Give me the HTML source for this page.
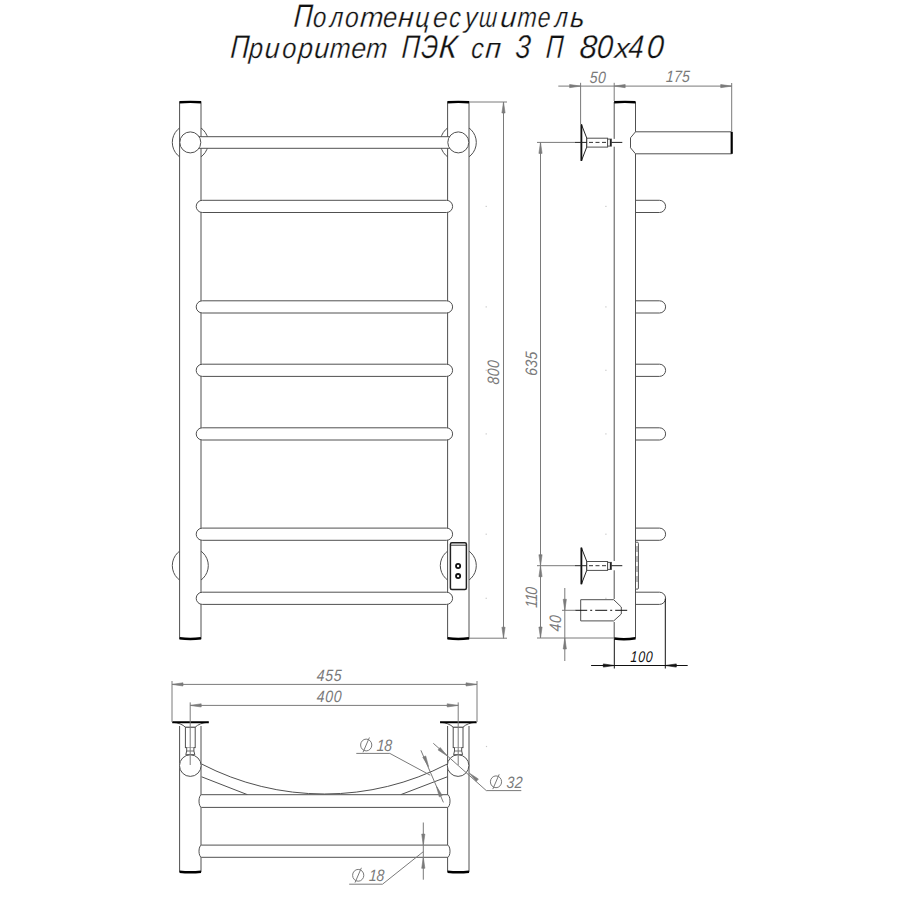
<!DOCTYPE html>
<html><head><meta charset="utf-8"><style>
html,body{margin:0;padding:0;background:#fff;}
svg{display:block;font-family:"Liberation Sans",sans-serif;}
</style></head><body>
<svg width="900" height="900" viewBox="0 0 900 900">
<rect width="900" height="900" fill="#fff"/>
<circle cx="190.3" cy="142.4" r="18" stroke="#505050" stroke-width="1.0" fill="white"/>
<circle cx="190.3" cy="565.6" r="18" stroke="#505050" stroke-width="1.0" fill="white"/>
<circle cx="458.3" cy="142.4" r="18" stroke="#505050" stroke-width="1.0" fill="white"/>
<circle cx="458.3" cy="565.6" r="18" stroke="#505050" stroke-width="1.0" fill="white"/>
<rect x="179.6" y="102" width="21.400000000000006" height="536.6" fill="white" stroke="#505050" stroke-width="1.0"/>
<path d="M179.6,102.3 Q190.3,101.4 201,102.3" stroke="#000" stroke-width="2.4" fill="none"/>
<path d="M179.6,638.3000000000001 Q190.3,639.8000000000001 201,638.3000000000001" stroke="#000" stroke-width="2.4" fill="none"/>
<rect x="447.6" y="102" width="21.399999999999977" height="536.6" fill="white" stroke="#505050" stroke-width="1.0"/>
<path d="M447.6,102.3 Q458.3,101.4 469,102.3" stroke="#000" stroke-width="2.4" fill="none"/>
<path d="M447.6,638.3000000000001 Q458.3,639.8000000000001 469,638.3000000000001" stroke="#000" stroke-width="2.4" fill="none"/>
<rect x="195" y="136.7" width="258" height="11.6" fill="white" stroke="none"/>
<line x1="199" y1="136.7" x2="450" y2="136.7" stroke="#505050" stroke-width="1.0" />
<line x1="199" y1="148.3" x2="450" y2="148.3" stroke="#505050" stroke-width="1.0" />
<circle cx="190.3" cy="142.4" r="10.5" stroke="#505050" stroke-width="1.0" fill="white"/>
<circle cx="458.3" cy="142.4" r="10.5" stroke="#505050" stroke-width="1.0" fill="white"/>
<rect x="196.2" y="200.3" width="256.4" height="12.2" rx="6.1" ry="6.1" fill="white" stroke="#505050" stroke-width="1.0"/>
<rect x="196.2" y="300.79999999999995" width="256.4" height="12.2" rx="6.1" ry="6.1" fill="white" stroke="#505050" stroke-width="1.0"/>
<rect x="196.2" y="364.2" width="256.4" height="12.2" rx="6.1" ry="6.1" fill="white" stroke="#505050" stroke-width="1.0"/>
<rect x="196.2" y="427.79999999999995" width="256.4" height="12.2" rx="6.1" ry="6.1" fill="white" stroke="#505050" stroke-width="1.0"/>
<rect x="196.2" y="528.1" width="256.4" height="12.2" rx="6.1" ry="6.1" fill="white" stroke="#505050" stroke-width="1.0"/>
<rect x="196.2" y="592.1999999999999" width="256.4" height="12.2" rx="6.1" ry="6.1" fill="white" stroke="#505050" stroke-width="1.0"/>
<rect x="450.4" y="542.7" width="16" height="46.7" rx="1.5" fill="white" stroke="#222" stroke-width="1.5"/>
<line x1="450.4" y1="545.2" x2="466.4" y2="545.2" stroke="#222" stroke-width="0.9" />
<circle cx="458.1" cy="566" r="2.1" stroke="#111" stroke-width="1.8" fill="none"/>
<circle cx="458.1" cy="576.1" r="2.1" stroke="#111" stroke-width="1.8" fill="none"/>
<line x1="469" y1="102" x2="507" y2="102" stroke="#7a7a7a" stroke-width="1" />
<line x1="469" y1="638.2" x2="507" y2="638.2" stroke="#7a7a7a" stroke-width="1" />
<line x1="503.5" y1="102" x2="503.5" y2="638.2" stroke="#7a7a7a" stroke-width="1" />
<path d="M503.50,102.00 L505.10,113.00 L501.90,113.00 Z" fill="#7a7a7a" stroke="#7a7a7a" stroke-width="0.6"/>
<path d="M503.50,638.20 L501.90,627.20 L505.10,627.20 Z" fill="#7a7a7a" stroke="#7a7a7a" stroke-width="0.6"/>
<text transform="translate(499.3 372.6) rotate(-90) skewX(-3) scale(0.85 1)" x="-9.65 0.00 9.65" y="0" font-size="16.5" fill="#7a7a7a" text-anchor="middle" font-style="italic">800</text>
<line x1="635.5" y1="102" x2="635.5" y2="131.8" stroke="#505050" stroke-width="1.0" />
<line x1="635.5" y1="153.8" x2="635.5" y2="638.5" stroke="#505050" stroke-width="1.0" />
<line x1="614.2" y1="102" x2="614.2" y2="138.9" stroke="#505050" stroke-width="1.0" />
<line x1="614.2" y1="146.7" x2="614.2" y2="561" stroke="#505050" stroke-width="1.0" />
<line x1="614.2" y1="570.3" x2="614.2" y2="599" stroke="#505050" stroke-width="1.0" />
<line x1="614.2" y1="622" x2="614.2" y2="638.5" stroke="#505050" stroke-width="1.0" />
<path d="M614.2,102.3 Q624.85,101.4 635.5,102.3" stroke="#000" stroke-width="2.4" fill="none"/>
<path d="M614.2,638.5 Q624.85,640 635.5,638.2" stroke="#000" stroke-width="2.4" fill="none"/>
<path d="M635.5,131.8 L630.5,137.8 L630.5,147.8 L635.5,153.8" stroke="#505050" stroke-width="1.0" fill="none"/>
<line x1="635.5" y1="131.8" x2="731.7" y2="131.8" stroke="#505050" stroke-width="1.0" />
<line x1="635.5" y1="153.8" x2="731.7" y2="153.8" stroke="#505050" stroke-width="1.0" />
<line x1="731.7" y1="131.8" x2="731.7" y2="153.8" stroke="#000" stroke-width="2.2" />
<path d="M635.5,200.3 L659.5,200.3 A6.1,6.1 0 0 1 659.5,212.5 L635.5,212.5" stroke="#505050" stroke-width="1.0" fill="none"/>
<path d="M635.5,300.79999999999995 L659.5,300.79999999999995 A6.1,6.1 0 0 1 659.5,313.0 L635.5,313.0" stroke="#505050" stroke-width="1.0" fill="none"/>
<path d="M635.5,364.2 L659.5,364.2 A6.1,6.1 0 0 1 659.5,376.40000000000003 L635.5,376.40000000000003" stroke="#505050" stroke-width="1.0" fill="none"/>
<path d="M635.5,427.79999999999995 L659.5,427.79999999999995 A6.1,6.1 0 0 1 659.5,440.0 L635.5,440.0" stroke="#505050" stroke-width="1.0" fill="none"/>
<path d="M635.5,528.1 L659.5,528.1 A6.1,6.1 0 0 1 659.5,540.3000000000001 L635.5,540.3000000000001" stroke="#505050" stroke-width="1.0" fill="none"/>
<path d="M635.5,592.1999999999999 L659.5,592.1999999999999 A6.1,6.1 0 0 1 659.5,604.4 L635.5,604.4" stroke="#505050" stroke-width="1.0" fill="none"/>
<rect x="635.5" y="542.2" width="2.9" height="47" rx="1.2" fill="white" stroke="#505050" stroke-width="1"/>
<line x1="637.0" y1="546" x2="637.0" y2="586" stroke="#555" stroke-width="0.8" stroke-dasharray="6,4"/>
<path d="M581.4,124.4 L586.8,138.20000000000002 L586.8,146.9 L581.4,160.9 Z" stroke="#222" stroke-width="1.0" fill="white"/>
<line x1="581.4" y1="124.4" x2="581.4" y2="160.9" stroke="#111" stroke-width="1.8" />
<line x1="586.8" y1="138.20000000000002" x2="586.8" y2="146.9" stroke="#111" stroke-width="1.6" />
<rect x="586.8" y="138.20000000000002" width="20.8" height="8.9" fill="white" stroke="#505050" stroke-width="1.0"/>
<rect x="607.6" y="139.1" width="3.8" height="7" fill="white" stroke="#505050" stroke-width="1.0"/>
<line x1="610.5" y1="139.1" x2="610.5" y2="146.1" stroke="#222" stroke-width="1.3" />
<line x1="575" y1="142.4" x2="586.8" y2="142.4" stroke="#222" stroke-width="1" />
<line x1="589" y1="142.4" x2="607" y2="142.4" stroke="#333" stroke-width="1" stroke-dasharray="4,2.5"/>
<line x1="611.4" y1="142.4" x2="622.3" y2="142.4" stroke="#222" stroke-width="1" />
<path d="M581.4,547.7 L586.8,561.5 L586.8,570.2 L581.4,584.2 Z" stroke="#222" stroke-width="1.0" fill="white"/>
<line x1="581.4" y1="547.7" x2="581.4" y2="584.2" stroke="#111" stroke-width="1.8" />
<line x1="586.8" y1="561.5" x2="586.8" y2="570.2" stroke="#111" stroke-width="1.6" />
<rect x="586.8" y="561.5" width="20.8" height="8.9" fill="white" stroke="#505050" stroke-width="1.0"/>
<rect x="607.6" y="562.4000000000001" width="3.8" height="7" fill="white" stroke="#505050" stroke-width="1.0"/>
<line x1="610.5" y1="562.4000000000001" x2="610.5" y2="569.4000000000001" stroke="#222" stroke-width="1.3" />
<line x1="575" y1="565.7" x2="586.8" y2="565.7" stroke="#222" stroke-width="1" />
<line x1="589" y1="565.7" x2="607" y2="565.7" stroke="#333" stroke-width="1" stroke-dasharray="4,2.5"/>
<line x1="611.4" y1="565.7" x2="622.3" y2="565.7" stroke="#222" stroke-width="1" />
<path d="M613.7,599.7 L580.7,599.7 L580.7,620.9 L613.7,620.9 L621.3,614 L621.3,607 Z" stroke="#505050" stroke-width="1.0" fill="white"/>
<line x1="575.2" y1="610.3" x2="627.7" y2="610.3" stroke="#111" stroke-width="1" stroke-dasharray="12,3,2,3"/>
<line x1="558.3" y1="86.1" x2="731.7" y2="86.1" stroke="#7a7a7a" stroke-width="1" />
<line x1="580.6" y1="82.8" x2="580.6" y2="124.4" stroke="#7a7a7a" stroke-width="1" />
<line x1="614.2" y1="82.8" x2="614.2" y2="101" stroke="#7a7a7a" stroke-width="1" />
<line x1="731.7" y1="83" x2="731.7" y2="131" stroke="#7a7a7a" stroke-width="1" />
<path d="M580.60,86.10 L569.60,87.70 L569.60,84.50 Z" fill="#7a7a7a" stroke="#7a7a7a" stroke-width="0.6"/>
<path d="M614.20,86.10 L625.20,84.50 L625.20,87.70 Z" fill="#7a7a7a" stroke="#7a7a7a" stroke-width="0.6"/>
<path d="M731.70,86.10 L720.70,87.70 L720.70,84.50 Z" fill="#7a7a7a" stroke="#7a7a7a" stroke-width="0.6"/>
<text transform="translate(597.5 82.7) rotate(0) skewX(-3) scale(0.85 1)" x="-4.88 4.88" y="0" font-size="16.5" fill="#7a7a7a" text-anchor="middle" font-style="italic">50</text>
<text transform="translate(677.7 82.2) rotate(0) skewX(-3) scale(0.85 1)" x="-9.41 0.00 9.41" y="0" font-size="16.5" fill="#7a7a7a" text-anchor="middle" font-style="italic">175</text>
<line x1="537" y1="142.4" x2="575" y2="142.4" stroke="#7a7a7a" stroke-width="1" />
<line x1="537" y1="565.7" x2="575" y2="565.7" stroke="#7a7a7a" stroke-width="1" />
<line x1="537" y1="638" x2="614" y2="638" stroke="#7a7a7a" stroke-width="1" />
<line x1="540.5" y1="142.4" x2="540.5" y2="638" stroke="#7a7a7a" stroke-width="1" />
<path d="M540.50,142.40 L542.10,153.40 L538.90,153.40 Z" fill="#7a7a7a" stroke="#7a7a7a" stroke-width="0.6"/>
<path d="M540.50,565.70 L538.90,554.70 L542.10,554.70 Z" fill="#7a7a7a" stroke="#7a7a7a" stroke-width="0.6"/>
<path d="M540.50,565.70 L542.10,576.70 L538.90,576.70 Z" fill="#7a7a7a" stroke="#7a7a7a" stroke-width="0.6"/>
<path d="M540.50,638.00 L538.90,627.00 L542.10,627.00 Z" fill="#7a7a7a" stroke="#7a7a7a" stroke-width="0.6"/>
<text transform="translate(537.2 364.0) rotate(-90) skewX(-3) scale(0.85 1)" x="-9.65 0.00 9.65" y="0" font-size="16.5" fill="#7a7a7a" text-anchor="middle" font-style="italic">635</text>
<text transform="translate(536.7 597.6) rotate(-90) skewX(-3) scale(0.85 1)" x="-7.76 0.00 7.76" y="0" font-size="16.5" fill="#7a7a7a" text-anchor="middle" font-style="italic">110</text>
<line x1="562" y1="610.3" x2="575.2" y2="610.3" stroke="#7a7a7a" stroke-width="1" />
<line x1="564.8" y1="588" x2="564.8" y2="661" stroke="#7a7a7a" stroke-width="1" />
<path d="M564.80,610.30 L563.20,599.30 L566.40,599.30 Z" fill="#7a7a7a" stroke="#7a7a7a" stroke-width="0.6"/>
<path d="M564.80,638.00 L566.40,649.00 L563.20,649.00 Z" fill="#7a7a7a" stroke="#7a7a7a" stroke-width="0.6"/>
<text transform="translate(561.0 623.5) rotate(-90) skewX(-3) scale(0.85 1)" x="-5.00 5.00" y="0" font-size="16.5" fill="#7a7a7a" text-anchor="middle" font-style="italic">40</text>
<line x1="614.3" y1="639" x2="614.3" y2="668.5" stroke="#111" stroke-width="1" />
<line x1="665.3" y1="598.5" x2="665.3" y2="668.5" stroke="#111" stroke-width="1" />
<line x1="591.1" y1="665.5" x2="687.7" y2="665.5" stroke="#111" stroke-width="1" />
<path d="M614.30,665.50 L603.30,667.10 L603.30,663.90 Z" fill="#111" stroke="#111" stroke-width="0.6"/>
<path d="M665.30,665.50 L676.30,663.90 L676.30,667.10 Z" fill="#111" stroke="#111" stroke-width="0.6"/>
<text transform="translate(641.4 661.5) rotate(0) skewX(-3) scale(0.8 1)" x="-9.50 0.00 9.50" y="0" font-size="15.5" fill="#111" text-anchor="middle" font-style="italic">100</text>
<line x1="179.6" y1="726" x2="179.6" y2="872" stroke="#505050" stroke-width="1.0" />
<line x1="201" y1="726" x2="201" y2="872" stroke="#505050" stroke-width="1.0" />
<path d="M179.6,871.7 Q190.3,872.8 201,871.7" stroke="#000" stroke-width="2.4" fill="none"/>
<line x1="447.6" y1="726" x2="447.6" y2="872" stroke="#505050" stroke-width="1.0" />
<line x1="469" y1="726" x2="469" y2="872" stroke="#505050" stroke-width="1.0" />
<path d="M447.6,871.7 Q458.3,872.8 469,871.7" stroke="#000" stroke-width="2.4" fill="none"/>
<path d="M201.6,764 A266.5,266.5 0 0 0 447.3,764" stroke="#505050" stroke-width="1.0" fill="none"/>
<line x1="201.6" y1="776.8" x2="247.5" y2="794.7" stroke="#505050" stroke-width="1.0" />
<line x1="447.3" y1="776.8" x2="400.7" y2="794.7" stroke="#505050" stroke-width="1.0" />
<path d="M201.6,794.7 L447.4,794.7 A2.6,6.349999999999966 0 0 1 447.4,807.4 L201.6,807.4 A2.6,6.349999999999966 0 0 1 201.6,794.7 Z" fill="white" stroke="#505050" stroke-width="1.0"/>
<path d="M201.6,845.1 L447.4,845.1 A2.6,6.099999999999966 0 0 1 447.4,857.3 L201.6,857.3 A2.6,6.099999999999966 0 0 1 201.6,845.1 Z" fill="white" stroke="#505050" stroke-width="1.0"/>
<path d="M172.3,722.2 Q181.3,723 185.5,727.3 L195.10000000000002,727.3 Q199.3,723 208.3,722.2" stroke="#505050" stroke-width="1" fill="white"/>
<line x1="172.3" y1="722.2" x2="208.8" y2="722.2" stroke="#000" stroke-width="1.9" />
<rect x="185.4" y="727.3" width="9.8" height="20.3" fill="white" stroke="#505050" stroke-width="1"/>
<path d="M186.70000000000002,747.6 L186.70000000000002,751 L185.8,754.7 L194.8,754.7 L193.9,751 L193.9,747.6" stroke="#505050" stroke-width="1" fill="white"/>
<line x1="186.70000000000002" y1="751" x2="193.9" y2="751" stroke="#505050" stroke-width="0.8" />
<circle cx="190.3" cy="765.6" r="10.8" stroke="#505050" stroke-width="1.0" fill="white"/>
<path d="M440.1,722.2 Q449.1,723 453.3,727.3 L462.90000000000003,727.3 Q467.1,723 476.1,722.2" stroke="#505050" stroke-width="1" fill="white"/>
<line x1="440.1" y1="722.2" x2="476.6" y2="722.2" stroke="#000" stroke-width="1.9" />
<rect x="453.20000000000005" y="727.3" width="9.8" height="20.3" fill="white" stroke="#505050" stroke-width="1"/>
<path d="M454.5,747.6 L454.5,751 L453.6,754.7 L462.6,754.7 L461.70000000000005,751 L461.70000000000005,747.6" stroke="#505050" stroke-width="1" fill="white"/>
<line x1="454.5" y1="751" x2="461.70000000000005" y2="751" stroke="#505050" stroke-width="0.8" />
<circle cx="458.1" cy="765.6" r="10.8" stroke="#505050" stroke-width="1.0" fill="white"/>
<line x1="172" y1="681" x2="172" y2="722" stroke="#7a7a7a" stroke-width="1" />
<line x1="477" y1="681" x2="477" y2="722" stroke="#7a7a7a" stroke-width="1" />
<line x1="172" y1="684.4" x2="477" y2="684.4" stroke="#7a7a7a" stroke-width="1" />
<path d="M172.00,684.40 L183.00,682.80 L183.00,686.00 Z" fill="#7a7a7a" stroke="#7a7a7a" stroke-width="0.6"/>
<path d="M477.00,684.40 L466.00,686.00 L466.00,682.80 Z" fill="#7a7a7a" stroke="#7a7a7a" stroke-width="0.6"/>
<text transform="translate(329 680.7) rotate(0) skewX(-3) scale(0.85 1)" x="-10.00 0.00 10.00" y="0" font-size="16.5" fill="#7a7a7a" text-anchor="middle" font-style="italic">455</text>
<line x1="190.2" y1="702.4" x2="190.2" y2="765" stroke="#7a7a7a" stroke-width="1" />
<line x1="458.2" y1="702.4" x2="458.2" y2="765" stroke="#7a7a7a" stroke-width="1" />
<line x1="190.2" y1="705.4" x2="458.2" y2="705.4" stroke="#7a7a7a" stroke-width="1" />
<path d="M190.20,705.40 L201.20,703.80 L201.20,707.00 Z" fill="#7a7a7a" stroke="#7a7a7a" stroke-width="0.6"/>
<path d="M458.20,705.40 L447.20,707.00 L447.20,703.80 Z" fill="#7a7a7a" stroke="#7a7a7a" stroke-width="0.6"/>
<text transform="translate(329 702) rotate(0) skewX(-3) scale(0.85 1)" x="-10.00 0.00 10.00" y="0" font-size="16.5" fill="#7a7a7a" text-anchor="middle" font-style="italic">400</text>
<line x1="433.3" y1="743.3" x2="486.3" y2="790.6" stroke="#7a7a7a" stroke-width="1" />
<line x1="486.3" y1="790.6" x2="521.3" y2="790.6" stroke="#7a7a7a" stroke-width="1" />
<path d="M447.30,756.00 L438.02,749.88 L440.15,747.49 Z" fill="#7a7a7a" stroke="#7a7a7a" stroke-width="0.6"/>
<path d="M469.10,772.90 L478.38,779.02 L476.25,781.41 Z" fill="#7a7a7a" stroke="#7a7a7a" stroke-width="0.6"/>
<ellipse cx="496" cy="781.8" rx="5.6" ry="5.9" stroke="#7a7a7a" stroke-width="1" fill="none"/>
<line x1="499.2" y1="774.3" x2="492.8" y2="789.0999999999999" stroke="#7a7a7a" stroke-width="1"/>
<text transform="translate(514.2 787.8) rotate(0) skewX(-3) scale(0.85 1)" x="-4.88 4.88" y="0" font-size="16.5" fill="#7a7a7a" text-anchor="middle" font-style="italic">32</text>
<line x1="420.9" y1="750.3" x2="443.4" y2="802.4" stroke="#7a7a7a" stroke-width="1" />
<path d="M428.60,766.70 L422.78,757.23 L425.72,755.96 Z" fill="#7a7a7a" stroke="#7a7a7a" stroke-width="0.6"/>
<path d="M436.40,786.10 L442.22,795.57 L439.28,796.84 Z" fill="#7a7a7a" stroke="#7a7a7a" stroke-width="0.6"/>
<line x1="356.3" y1="753.4" x2="389.8" y2="753.4" stroke="#7a7a7a" stroke-width="1" />
<line x1="389.8" y1="753.4" x2="430.2" y2="775.2" stroke="#7a7a7a" stroke-width="1" />
<ellipse cx="366.2" cy="745" rx="5.6" ry="5.9" stroke="#7a7a7a" stroke-width="1" fill="none"/>
<line x1="369.4" y1="737.5" x2="363.0" y2="752.3" stroke="#7a7a7a" stroke-width="1"/>
<text transform="translate(384.2 750.6) rotate(0) skewX(-3) scale(0.85 1)" x="-4.41 4.41" y="0" font-size="16.5" fill="#7a7a7a" text-anchor="middle" font-style="italic">18</text>
<line x1="423.3" y1="822.5" x2="423.3" y2="879.7" stroke="#7a7a7a" stroke-width="1" />
<path d="M423.30,845.10 L421.70,834.10 L424.90,834.10 Z" fill="#7a7a7a" stroke="#7a7a7a" stroke-width="0.6"/>
<path d="M423.30,857.30 L424.90,868.30 L421.70,868.30 Z" fill="#7a7a7a" stroke="#7a7a7a" stroke-width="0.6"/>
<line x1="423.3" y1="851.7" x2="382.5" y2="884.2" stroke="#7a7a7a" stroke-width="1" />
<line x1="382.5" y1="884.2" x2="349.2" y2="884.2" stroke="#7a7a7a" stroke-width="1" />
<ellipse cx="358.2" cy="875.3" rx="5.6" ry="5.9" stroke="#7a7a7a" stroke-width="1" fill="none"/>
<line x1="361.4" y1="867.8" x2="355.0" y2="882.5999999999999" stroke="#7a7a7a" stroke-width="1"/>
<text transform="translate(376.5 880.8) rotate(0) skewX(-3) scale(0.85 1)" x="-4.41 4.41" y="0" font-size="16.5" fill="#7a7a7a" text-anchor="middle" font-style="italic">18</text>
<rect x="485.59999999999997" y="205.8" width="1.2" height="1.2" fill="#c8c8c8"/>
<rect x="605.3" y="205.8" width="1.2" height="1.2" fill="#c8c8c8"/>
<rect x="485.59999999999997" y="306.29999999999995" width="1.2" height="1.2" fill="#c8c8c8"/>
<rect x="605.3" y="306.29999999999995" width="1.2" height="1.2" fill="#c8c8c8"/>
<rect x="485.59999999999997" y="369.7" width="1.2" height="1.2" fill="#c8c8c8"/>
<rect x="605.3" y="369.7" width="1.2" height="1.2" fill="#c8c8c8"/>
<rect x="485.59999999999997" y="433.29999999999995" width="1.2" height="1.2" fill="#c8c8c8"/>
<rect x="605.3" y="433.29999999999995" width="1.2" height="1.2" fill="#c8c8c8"/>
<rect x="485.59999999999997" y="533.6" width="1.2" height="1.2" fill="#c8c8c8"/>
<rect x="605.3" y="533.6" width="1.2" height="1.2" fill="#c8c8c8"/>
<rect x="485.59999999999997" y="597.6999999999999" width="1.2" height="1.2" fill="#c8c8c8"/>
<rect x="605.3" y="597.6999999999999" width="1.2" height="1.2" fill="#c8c8c8"/>
<rect x="485.9" y="745.9" width="1.2" height="1.2" fill="#c8c8c8"/>
<text transform="translate(302.66 27.0) skewX(-4) scale(0.787 1)" font-size="32.8" fill="#111" font-style="italic" text-anchor="middle" stroke="#fff" stroke-width="0.3">П</text>
<text transform="translate(319.13 27.0) skewX(-4) scale(0.833 1)" font-size="28.6" fill="#111" font-style="italic" text-anchor="middle" stroke="#fff" stroke-width="0.3">о</text>
<text transform="translate(336.00 27.0) skewX(-4) scale(0.811 1)" font-size="28.6" fill="#111" font-style="italic" text-anchor="middle" stroke="#fff" stroke-width="0.3">л</text>
<text transform="translate(351.42 27.0) skewX(-4) scale(0.860 1)" font-size="28.6" fill="#111" font-style="italic" text-anchor="middle" stroke="#fff" stroke-width="0.3">о</text>
<text transform="translate(371.25 27.0) skewX(-4) scale(0.986 1)" font-size="28.6" fill="#111" font-style="italic" text-anchor="middle" stroke="#fff" stroke-width="0.3">т</text>
<text transform="translate(389.55 27.0) skewX(-4) scale(0.893 1)" font-size="28.6" fill="#111" font-style="italic" text-anchor="middle" stroke="#fff" stroke-width="0.3">е</text>
<text transform="translate(405.30 27.0) skewX(-4) scale(1.000 1)" font-size="28.6" fill="#111" font-style="italic" text-anchor="middle" stroke="#fff" stroke-width="0.3">н</text>
<text transform="translate(421.96 27.0) skewX(-4) scale(0.880 1)" font-size="28.6" fill="#111" font-style="italic" text-anchor="middle" stroke="#fff" stroke-width="0.3">ц</text>
<text transform="translate(439.74 27.0) skewX(-4) scale(0.920 1)" font-size="28.6" fill="#111" font-style="italic" text-anchor="middle" stroke="#fff" stroke-width="0.3">е</text>
<text transform="translate(454.40 27.0) skewX(-4) scale(0.800 1)" font-size="28.6" fill="#111" font-style="italic" text-anchor="middle" stroke="#fff" stroke-width="0.3">с</text>
<text transform="translate(470.40 27.0) skewX(-4) scale(0.878 1)" font-size="28.6" fill="#111" font-style="italic" text-anchor="middle" stroke="#fff" stroke-width="0.3">у</text>
<text transform="translate(487.61 27.0) skewX(-4) scale(0.761 1)" font-size="28.6" fill="#111" font-style="italic" text-anchor="middle" stroke="#fff" stroke-width="0.3">ш</text>
<text transform="translate(507.94 27.0) skewX(-4) scale(1.020 1)" font-size="28.6" fill="#111" font-style="italic" text-anchor="middle" stroke="#fff" stroke-width="0.3">и</text>
<text transform="translate(526.60 27.0) skewX(-4) scale(0.809 1)" font-size="28.6" fill="#111" font-style="italic" text-anchor="middle" stroke="#fff" stroke-width="0.3">т</text>
<text transform="translate(543.60 27.0) skewX(-4) scale(0.800 1)" font-size="28.6" fill="#111" font-style="italic" text-anchor="middle" stroke="#fff" stroke-width="0.3">е</text>
<text transform="translate(560.85 27.0) skewX(-4) scale(0.794 1)" font-size="28.6" fill="#111" font-style="italic" text-anchor="middle" stroke="#fff" stroke-width="0.3">л</text>
<text transform="translate(576.98 27.0) skewX(-4) scale(0.954 1)" font-size="28.6" fill="#111" font-style="italic" text-anchor="middle" stroke="#fff" stroke-width="0.3">ь</text>
<text transform="translate(239.17 57.6) skewX(-4) scale(0.779 1)" font-size="32.8" fill="#111" font-style="italic" text-anchor="middle" stroke="#fff" stroke-width="0.3">П</text>
<text transform="translate(255.64 57.6) skewX(-4) scale(0.882 1)" font-size="28.6" fill="#111" font-style="italic" text-anchor="middle" stroke="#fff" stroke-width="0.3">р</text>
<text transform="translate(271.78 57.6) skewX(-4) scale(0.940 1)" font-size="28.6" fill="#111" font-style="italic" text-anchor="middle" stroke="#fff" stroke-width="0.3">и</text>
<text transform="translate(288.91 57.6) skewX(-4) scale(0.887 1)" font-size="28.6" fill="#111" font-style="italic" text-anchor="middle" stroke="#fff" stroke-width="0.3">о</text>
<text transform="translate(305.06 57.6) skewX(-4) scale(0.929 1)" font-size="28.6" fill="#111" font-style="italic" text-anchor="middle" stroke="#fff" stroke-width="0.3">р</text>
<text transform="translate(321.20 57.6) skewX(-4) scale(0.943 1)" font-size="28.6" fill="#111" font-style="italic" text-anchor="middle" stroke="#fff" stroke-width="0.3">и</text>
<text transform="translate(339.60 57.6) skewX(-4) scale(0.873 1)" font-size="28.6" fill="#111" font-style="italic" text-anchor="middle" stroke="#fff" stroke-width="0.3">т</text>
<text transform="translate(358.28 57.6) skewX(-4) scale(0.940 1)" font-size="28.6" fill="#111" font-style="italic" text-anchor="middle" stroke="#fff" stroke-width="0.3">е</text>
<text transform="translate(376.25 57.6) skewX(-4) scale(0.886 1)" font-size="28.6" fill="#111" font-style="italic" text-anchor="middle" stroke="#fff" stroke-width="0.3">т</text>
<text transform="translate(410.25 57.6) skewX(-4) scale(0.750 1)" font-size="32.8" fill="#111" font-style="italic" text-anchor="middle" stroke="#fff" stroke-width="0.3">П</text>
<text transform="translate(429.00 57.6) skewX(-4) scale(0.727 1)" font-size="32.8" fill="#111" font-style="italic" text-anchor="middle" stroke="#fff" stroke-width="0.3">Э</text>
<text transform="translate(447.47 57.6) skewX(-4) scale(0.952 1)" font-size="32.8" fill="#111" font-style="italic" text-anchor="middle" stroke="#fff" stroke-width="0.3">К</text>
<text transform="translate(476.93 57.6) skewX(-4) scale(0.871 1)" font-size="28.6" fill="#111" font-style="italic" text-anchor="middle" stroke="#fff" stroke-width="0.3">с</text>
<text transform="translate(492.60 57.6) skewX(-4) scale(1.000 1)" font-size="28.6" fill="#111" font-style="italic" text-anchor="middle" stroke="#fff" stroke-width="0.3">п</text>
<text transform="translate(522.27 57.6) skewX(-4) scale(0.833 1)" font-size="32.8" fill="#111" font-style="italic" text-anchor="middle" stroke="#fff" stroke-width="0.3">3</text>
<text transform="translate(554.13 57.6) skewX(-4) scale(0.721 1)" font-size="32.8" fill="#111" font-style="italic" text-anchor="middle" stroke="#fff" stroke-width="0.3">П</text>
<text transform="translate(587.64 57.6) skewX(-4) scale(0.956 1)" font-size="32.8" fill="#111" font-style="italic" text-anchor="middle" stroke="#fff" stroke-width="0.3">8</text>
<text transform="translate(604.18 57.6) skewX(-4) scale(0.882 1)" font-size="32.8" fill="#111" font-style="italic" text-anchor="middle" stroke="#fff" stroke-width="0.3">0</text>
<text transform="translate(621.47 57.6) skewX(-4) scale(1.059 1)" font-size="28.6" fill="#111" font-style="italic" text-anchor="middle" stroke="#fff" stroke-width="0.3">х</text>
<text transform="translate(635.43 57.6) skewX(-4) scale(0.841 1)" font-size="32.8" fill="#111" font-style="italic" text-anchor="middle" stroke="#fff" stroke-width="0.3">4</text>
<text transform="translate(654.71 57.6) skewX(-4) scale(0.929 1)" font-size="32.8" fill="#111" font-style="italic" text-anchor="middle" stroke="#fff" stroke-width="0.3">0</text>
</svg>
</body></html>
